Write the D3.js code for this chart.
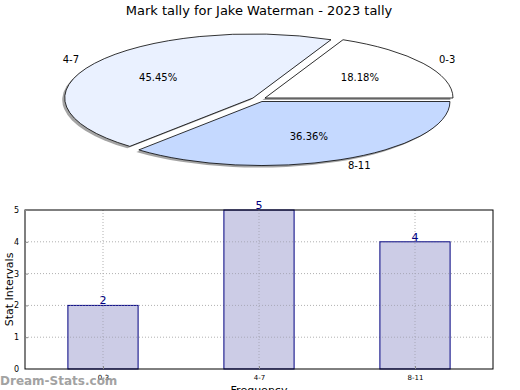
<!DOCTYPE html>
<html>
<head>
<meta charset="utf-8">
<script src="https://cdn.jsdelivr.net/npm/d3@7"></script>
<style>
  body { margin: 0; background: #fff; }
  svg { display: block; font-family: "DejaVu Sans", sans-serif; }
</style>
</head>
<body>
<div id="chart"></div>
<script>
const categories = ["0-3", "4-7", "8-11"];
const counts = [2, 5, 4];
const sliceColors = ["#ffffff", "#eaf1ff", "#c5d9ff"];
const yTicks = [0, 1, 2, 3, 4, 5];

const width = 520, height = 390;

const svg = d3.select("#chart")
  .append("svg")
  .attr("width", width)
  .attr("height", height);

// title
svg.append("text")
  .attr("x", 259)
  .attr("y", 15)
  .attr("text-anchor", "middle")
  .style("font-size", "13px")
  .text("Mark tally for Jake Waterman - 2023 tally");

// ---- pie (squashed into an ellipse) ----
const cx = 259, cy = 99.3, rx = 188, ry = 64;
const explode = 0.038;
const total = d3.sum(counts);

const pieGen = d3.pie()
  .sort(null)
  .startAngle(Math.PI / 2)
  .endAngle(Math.PI / 2 - 2 * Math.PI)
  .value((d) => d);

const arcGen = d3.arc().innerRadius(0).outerRadius(1);
const slices = pieGen(counts);

// mid angle in screen terms -> unit vector
function midVec(d, k) {
  const a = (d.startAngle + d.endAngle) / 2;
  return [Math.sin(a) * k, -Math.cos(a) * k];
}

const pieG = svg.append("g");

slices.forEach((d, i) => {
  const [ex, ey] = midVec(d, explode);
  const tx = cx + ex * rx, ty = cy + ey * ry;

  // shadow
  pieG.append("path")
    .attr("d", arcGen(d))
    .attr("transform", `translate(${tx - 2.5},${ty + 2}) scale(${rx},${ry})`)
    .style("fill", "#4a4a4a")
    .style("opacity", 0.5);

  pieG.append("path")
    .attr("d", arcGen(d))
    .attr("transform", `translate(${tx},${ty}) scale(${rx},${ry})`)
    .style("fill", sliceColors[i])
    .style("stroke", "#000")
    .style("stroke-width", 0.8)
    .attr("vector-effect", "non-scaling-stroke");
});

slices.forEach((d, i) => {
  const [ex, ey] = midVec(d, explode);
  const [px, py] = midVec(d, 0.6);
  const [lx, ly] = midVec(d, 1.1);

  pieG.append("text")
    .attr("x", cx + (ex + px) * rx)
    .attr("y", cy + (ey + py) * ry)
    .attr("text-anchor", "middle")
    .attr("dominant-baseline", "central")
    .style("font-size", "10px")
    .text(d3.format(".2f")(d.data / total * 100) + "%");

  pieG.append("text")
    .attr("x", cx + (ex + lx) * rx)
    .attr("y", cy + (ey + ly) * ry)
    .attr("text-anchor", lx < 0 ? "end" : "start")
    .attr("dominant-baseline", "central")
    .style("font-size", "10px")
    .text(categories[i]);
});

// ---- bar chart ----
const margin = { left: 25, top: 210, right: 493, bottom: 369 };

const x = d3.scaleLinear()
  .domain([-0.5, 2.5])
  .range([margin.left, margin.right]);

const y = d3.scaleLinear()
  .domain([0, 5])
  .range([margin.bottom, margin.top]);

const barW = x(0.45) - x(0);
const g = svg.append("g");

function gridLines(sel, cls, color) {
  sel.selectAll("." + cls + "h")
    .data(yTicks.slice(1, -1))
    .enter()
    .append("line")
    .attr("x1", margin.left)
    .attr("x2", margin.right)
    .attr("y1", (d) => y(d))
    .attr("y2", (d) => y(d))
    .style("stroke", color)
    .style("stroke-width", 1)
    .style("stroke-dasharray", "1,2");

  sel.selectAll("." + cls + "v")
    .data(categories)
    .enter()
    .append("line")
    .attr("x1", (_, i) => x(i))
    .attr("x2", (_, i) => x(i))
    .attr("y1", margin.top)
    .attr("y2", margin.bottom)
    .style("stroke", color)
    .style("stroke-width", 1)
    .style("stroke-dasharray", "1,2");
}

gridLines(g, "grid", "#b0b0b0");

// bars
g.selectAll(".bar")
  .data(counts)
  .enter()
  .append("rect")
  .attr("x", (_, i) => x(i) - barW / 2)
  .attr("y", (d) => y(d))
  .attr("width", barW)
  .attr("height", (d) => y(0) - y(d))
  .style("fill", "#cccce6")
  .style("stroke", "#000080")
  .style("stroke-width", 1);

// grid shows through the bars as well
const overG = g.append("g")
  .attr("clip-path", "url(#barclip)");
svg.append("clipPath")
  .attr("id", "barclip")
  .selectAll("rect")
  .data(counts)
  .enter()
  .append("rect")
  .attr("x", (_, i) => x(i) - barW / 2)
  .attr("y", (d) => y(d))
  .attr("width", barW)
  .attr("height", (d) => y(0) - y(d));
gridLines(overG, "grid2", "#a8a8b8");

// value labels
g.selectAll(".val")
  .data(counts)
  .enter()
  .append("text")
  .attr("x", (_, i) => x(i))
  .attr("y", (d) => y(d) - 1)
  .attr("text-anchor", "middle")
  .style("font-size", "11px")
  .style("fill", "#000080")
  .text((d) => d);

// frame
g.append("rect")
  .attr("x", margin.left)
  .attr("y", margin.top)
  .attr("width", margin.right - margin.left)
  .attr("height", margin.bottom - margin.top)
  .style("fill", "none")
  .style("stroke", "#000")
  .style("stroke-width", 1);

// axes
const yAxis = d3.axisLeft(y)
  .tickValues(yTicks)
  .tickFormat(d3.format("d"))
  .tickSize(-3)
  .tickPadding(6);

g.append("g")
  .attr("transform", `translate(${margin.left},0)`)
  .call(yAxis)
  .call((a) => a.select(".domain").remove())
  .call((a) => a.selectAll("line").style("stroke", "#888"))
  .call((a) => a.selectAll("text").style("font-size", "8px").style("font-family", "DejaVu Sans"));

const xAxis = d3.axisBottom(x)
  .tickValues([0, 1, 2])
  .tickFormat((d) => categories[d])
  .tickSize(-3)
  .tickPadding(6);

g.append("g")
  .attr("transform", `translate(0,${margin.bottom})`)
  .call(xAxis)
  .call((a) => a.select(".domain").remove())
  .call((a) => a.selectAll("line").style("stroke", "#888"))
  .call((a) => a.selectAll("text").style("font-size", "7px").style("font-family", "DejaVu Sans"));

// axis titles
svg.append("text")
  .attr("transform", `translate(13,${(margin.top + margin.bottom) / 2}) rotate(-90)`)
  .attr("text-anchor", "middle")
  .style("font-size", "11px")
  .text("Stat Intervals");

svg.append("text")
  .attr("x", x(1))
  .attr("y", 394)
  .attr("text-anchor", "middle")
  .style("font-size", "11px")
  .text("Frequency");

// watermark
svg.append("text")
  .attr("x", 0)
  .attr("y", 385)
  .style("font-size", "12px")
  .style("font-weight", "bold")
  .style("fill", "#999")
  .style("opacity", 0.9)
  .text("Dream-Stats.com");
</script>
</body>
</html>
